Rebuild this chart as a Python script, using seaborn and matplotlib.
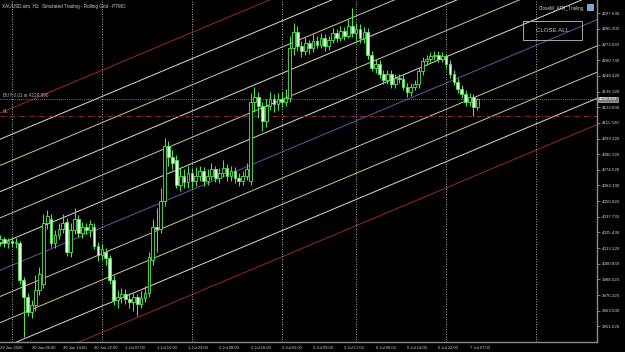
import matplotlib
matplotlib.use("Agg")
import matplotlib.pyplot as plt
from matplotlib.patches import Rectangle
import seaborn as sns
import numpy as np
import pandas as pd

# ---------------- data ----------------
first_bar = -3  # bar index of the first candle (30 Jun 01:00 = bar 0)
opens = [4118, 4120, 4117, 4119, 4117, 4117, 4088, 4075, 4063, 4068, 4080, 4085, 4133, 4136, 4117, 4123,
         4128, 4134, 4110, 4127, 4136, 4125, 4130, 4127, 4130, 4115, 4108, 4110, 4105, 4088, 4072, 4075,
         4077, 4073, 4071, 4075, 4069, 4074, 4078, 4104, 4130, 4128, 4150, 4193, 4185, 4182, 4163, 4170,
         4165, 4172, 4166, 4170, 4174, 4166, 4170, 4175, 4168, 4172, 4176, 4170, 4174, 4168, 4166, 4170,
         4166, 4228, 4232, 4225, 4213, 4225, 4230, 4226, 4230, 4228, 4231, 4270, 4283, 4272, 4268, 4274,
         4270, 4276, 4273, 4278, 4272, 4277, 4282, 4278, 4284, 4280, 4288, 4282, 4285, 4278, 4283, 4265,
         4255, 4258, 4250, 4245, 4250, 4242, 4247, 4246, 4240, 4236, 4240, 4242, 4252, 4260, 4262, 4264,
         4265, 4262, 4264, 4258, 4250, 4244, 4238, 4234, 4228, 4232, 4224]
highs = [4123, 4122, 4121, 4122, 4121, 4119, 4090, 4078, 4072, 4092, 4098, 4140, 4143, 4140, 4127, 4133,
         4140, 4137, 4133, 4145, 4139, 4134, 4133, 4135, 4133, 4118, 4116, 4113, 4108, 4092, 4080, 4082,
         4081, 4078, 4078, 4077, 4079, 4083, 4110, 4136, 4145, 4160, 4200, 4197, 4190, 4186, 4176, 4175,
         4178, 4176, 4177, 4178, 4177, 4175, 4180, 4178, 4176, 4182, 4179, 4178, 4177, 4172, 4174, 4180,
         4235, 4240, 4236, 4228, 4230, 4236, 4234, 4235, 4236, 4238, 4280, 4290, 4288, 4276, 4279, 4277,
         4281, 4280, 4282, 4281, 4280, 4286, 4285, 4288, 4287, 4293, 4302, 4290, 4289, 4287, 4286, 4268,
         4262, 4261, 4253, 4253, 4253, 4250, 4250, 4249, 4243, 4243, 4245, 4255, 4263, 4265, 4267, 4268,
         4268, 4267, 4266, 4261, 4253, 4247, 4241, 4237, 4235, 4234, 4231]
lows = [4115, 4114, 4113, 4114, 4113, 4085, 4043, 4060, 4058, 4064, 4076, 4082, 4128, 4114, 4113, 4120,
        4125, 4107, 4106, 4124, 4122, 4121, 4124, 4122, 4112, 4103, 4104, 4100, 4085, 4068, 4066, 4070,
        4069, 4066, 4064, 4060, 4066, 4071, 4075, 4100, 4110, 4125, 4146, 4178, 4175, 4160, 4158, 4160,
        4160, 4160, 4162, 4166, 4162, 4163, 4167, 4165, 4164, 4169, 4166, 4166, 4164, 4162, 4163, 4167,
        4163, 4220, 4215, 4205, 4208, 4222, 4220, 4222, 4224, 4225, 4228, 4265, 4268, 4263, 4265, 4266,
        4267, 4270, 4270, 4268, 4269, 4274, 4275, 4276, 4277, 4278, 4279, 4276, 4274, 4274, 4262, 4252,
        4251, 4247, 4242, 4242, 4239, 4239, 4243, 4237, 4232, 4233, 4237, 4239, 4249, 4257, 4259, 4261,
        4259, 4259, 4255, 4247, 4241, 4235, 4231, 4225, 4225, 4217, 4222]
closes = [4120, 4117, 4119, 4117, 4118, 4088, 4075, 4063, 4068, 4080, 4093, 4133, 4138, 4117, 4123, 4128,
          4133, 4110, 4127, 4136, 4125, 4130, 4127, 4132, 4115, 4108, 4112, 4105, 4088, 4072, 4075, 4077,
          4073, 4071, 4075, 4069, 4074, 4078, 4106, 4130, 4128, 4150, 4193, 4185, 4180, 4163, 4170, 4165,
          4172, 4166, 4170, 4174, 4166, 4170, 4175, 4168, 4172, 4176, 4170, 4174, 4168, 4166, 4170, 4175,
          4228, 4232, 4225, 4213, 4225, 4230, 4226, 4230, 4228, 4231, 4270, 4283, 4272, 4268, 4274, 4270,
          4276, 4273, 4278, 4272, 4277, 4282, 4278, 4284, 4280, 4288, 4282, 4285, 4278, 4283, 4265, 4255,
          4258, 4250, 4245, 4250, 4242, 4247, 4246, 4240, 4236, 4240, 4242, 4252, 4260, 4262, 4264, 4265,
          4262, 4264, 4258, 4250, 4244, 4238, 4234, 4228, 4232, 4224, 4230]

# channel (rolling grid) lines: price at bar 0 and slope per bar
channel_levels = [4223.2, 4202.6, 4182.0, 4161.4, 4140.8, 4120.2, 4099.6, 4079.0, 4058.4, 4037.8, 4017.2]
channel_kinds = ["red", "light", "khaki", "light", "khaki", "light", "blue", "khaki", "khaki", "light", "red"]
channel_slope = 1.29

buy_price = 4229.89
sl_price = 4217.3
bid_price = 4230.03

ytick_values = [4297.63, 4285.33, 4273.03, 4260.73, 4248.42, 4236.12, 4223.82, 4211.52, 4199.22, 4186.92,
                4174.62, 4162.32, 4150.02, 4137.72, 4125.42, 4113.12, 4100.82, 4088.52, 4076.22, 4063.92,
                4051.62]
ytick_labels = ["4297.630", "4285.200", "4273.030", "4260.730", "4248.420", "4136.320", "4122.830",
                "4111.520", "4099.220", "4086.320", "4074.620", "4062.330", "4050.020", "4037.730",
                "4025.430", "4013.120", "4000.830", "3988.520", "3976.220", "3963.530", "3951.620"]
xtick_labels = ["29 Jun 2026", "30 Jun 06:00", "30 Jun 14:00", "30 Jun 22:00", "1 Jul 07:00",
                "1 Jul 15:00", "1 Jul 23:00", "2 Jul 08:00", "2 Jul 16:00", "3 Jul 01:00", "3 Jul 09:00",
                "3 Jul 17:00", "6 Jul 06:00", "6 Jul 14:00", "6 Jul 22:00", "7 Jul 07:00"]
day_start_bars = [0, 23, 46, 69, 88, 111, 134]

# ---------------- style ----------------
sns.set_theme(style="dark")
plt.rcParams["font.family"] = ["Liberation Sans", "DejaVu Sans"]

BG = "#000000"
CANDLE = "#4cf04c"
AXCOL = "#8c8c8c"
TXT = "#d2d2d2"
colmap = {"red": "#9b2335", "light": "#dcdccb", "khaki": "#cfc88f", "blue": "#5a5aa8"}

W, H = 625, 352
fig = plt.figure(figsize=(W / 100, H / 100), dpi=100, facecolor=BG)
ax = fig.add_axes([0, 10 / H, 597 / W, 342 / H], facecolor=BG)

df = pd.DataFrame({"bar": np.arange(first_bar, first_bar + len(opens)),
                   "open": opens, "high": highs, "low": lows, "close": closes})

# x / y ranges
x_left, x_right = -3.07, 149.6
y_top, y_bot = 4308.08, 4039.3
ax.set_xlim(x_left, x_right)
ax.set_ylim(y_bot, y_top)

# channel lines
xs = np.array([x_left - 2, x_right + 2])
for lvl, kind in zip(channel_levels, channel_kinds):
    line_df = pd.DataFrame({"bar": xs, "price": lvl + channel_slope * xs})
    sns.lineplot(data=line_df, x="bar", y="price", ax=ax, color=colmap[kind], lw=0.7, zorder=1)

# day separators
for b in day_start_bars:
    ax.axvline(b, color="#bdbdbd", lw=0.6, ls=(0, (1.2, 1.8)), zorder=1)

# order lines
ax.axhline(buy_price, color="#9a9a9a", lw=0.6, ls=(0, (1, 1.5)), zorder=2)
ax.axhline(sl_price, color="#8a2b3a", lw=0.7, ls=(0, (5, 2, 1, 2)), zorder=2)

# candles
up = df["close"] >= df["open"]
ax.vlines(df["bar"], df["low"], df["high"], color=CANDLE, lw=0.7, zorder=3)
body_lo = np.minimum(df["open"], df["close"])
body_h = np.maximum(np.abs(df["close"] - df["open"]), 0.6)
ax.bar(df["bar"][up], body_h[up], bottom=body_lo[up], width=0.7, color=BG,
       edgecolor=CANDLE, linewidth=0.6, zorder=4)
ax.bar(df["bar"][~up], body_h[~up], bottom=body_lo[~up], width=0.7, color="#eaffea",
       edgecolor=CANDLE, linewidth=0.6, zorder=4)

# axes styling
for s in ["left", "top"]:
    ax.spines[s].set_visible(False)
for s in ["right", "bottom"]:
    ax.spines[s].set_color(AXCOL)
    ax.spines[s].set_linewidth(1.0)
ax.grid(False)
ax.yaxis.tick_right()
ax.set_yticks(ytick_values)
ax.set_yticklabels(ytick_labels)
ax.set_xticks(np.arange(first_bar, first_bar + 8 * len(xtick_labels), 8))
ax.set_xticklabels(xtick_labels)
ax.tick_params(axis="y", which="both", colors=AXCOL, labelcolor=TXT, labelsize=3.2,
               length=2.5, width=0.6, pad=1, direction="out", left=False, right=True)
ax.tick_params(axis="x", which="both", colors=AXCOL, labelcolor=TXT, labelsize=3.0,
               length=2.5, width=0.6, pad=0.5, direction="out")
for lab in ax.get_xticklabels():
    lab.set_ha("left")
ax.set_xlabel("")
ax.set_ylabel("")

# texts
ax.text(0.004, 0.988, "XAUUSD.sim, H1:  Simulated Trading - Rolling Grid - PTMO", transform=ax.transAxes,
        color=TXT, fontsize=3.3, va="top", ha="left")
ax.text(x_left + 0.8, buy_price + 1.0, "BUY 0.01 at 4229.890", color="#b0b0b0", fontsize=3.3,
        va="bottom", ha="left")
ax.text(x_left + 0.8, sl_price + 0.8, "SL", color="#b0b0b0", fontsize=3.3, va="bottom", ha="left")
ax.text(0.978, 0.982, "CloseM_ATR_Trailing", transform=ax.transAxes, color=TXT, fontsize=3.3,
        va="top", ha="right")
ax.add_patch(Rectangle((0.984, 0.972), 0.01, 0.016, transform=ax.transAxes, facecolor="#6fa8dc",
                       edgecolor="#dfefff", lw=0.4, zorder=6))

# CLOSE ALL button (figure pixel coords)
btn = Rectangle((523 / W, 1 - 40 / H), (582 - 523) / W, 19 / H, transform=fig.transFigure,
                facecolor="none", edgecolor="#a8a8a8", lw=0.7)
fig.patches.append(btn)
fig.text(552.5 / W, 1 - 30.5 / H, "CLOSE ALL", color="#c8c8c8", fontsize=4.4, ha="center", va="center")

# current bid label at the right scale
ax.annotate(f"{bid_price:.3f}", xy=(1.0, bid_price), xycoords=("axes fraction", "data"),
            xytext=(1.5, 0), textcoords="offset points", color="#ffffff", fontsize=3.2,
            va="center", ha="left", annotation_clip=False,
            bbox=dict(boxstyle="square,pad=0.15", facecolor="#7a7a7a", edgecolor="#d8d8d8", lw=0.4))

fig.savefig("out.png", dpi=100, facecolor=BG)
